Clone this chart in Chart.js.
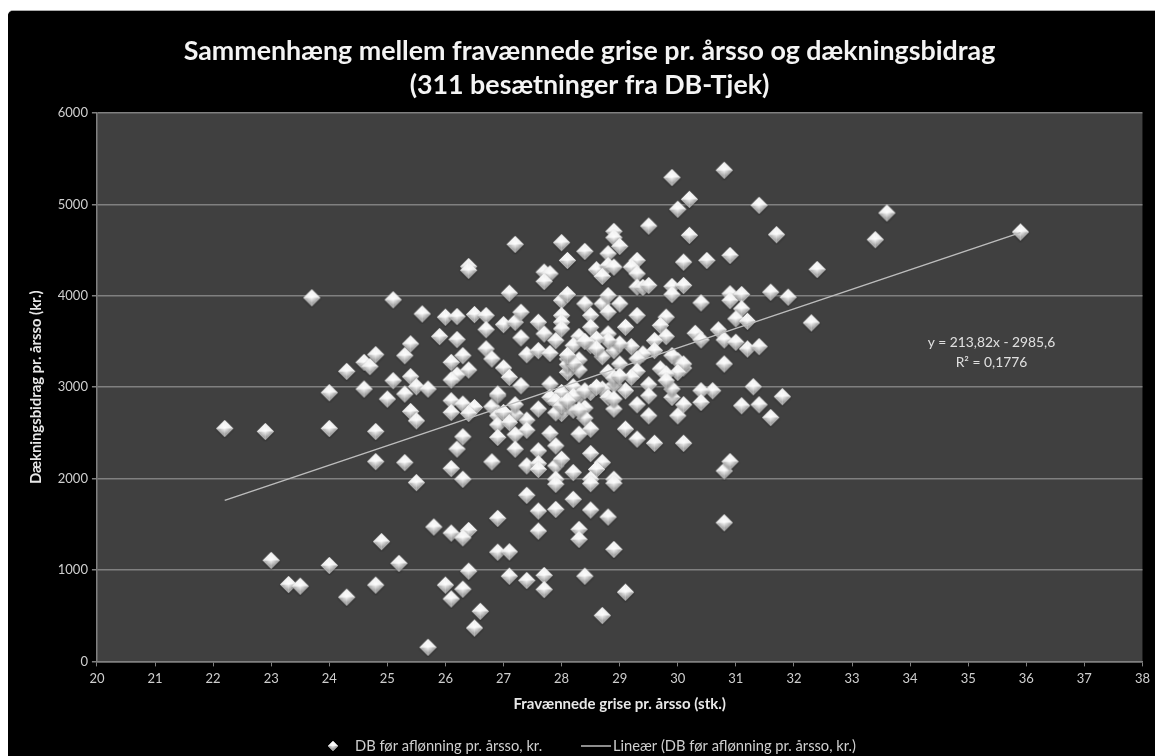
<!DOCTYPE html>
<html>
<head>
<meta charset="utf-8">
<script src="https://cdn.jsdelivr.net/npm/chart.js@4/dist/chart.umd.min.js"></script>
<style>
  html, body { margin: 0; padding: 0; background: #fff; overflow: hidden; }
  #wrap { position: absolute; left: 8px; top: 11px; width: 1147px; height: 745px; background: #000; border-top-left-radius: 5px; overflow: hidden; box-shadow: 0 -1px 0 #aaa; }
</style>
</head>
<body>
<div id="wrap"><canvas id="myChart" width="1147" height="745"></canvas></div>
<script>
// Values, one x row above its y row

const piglets = [
  24.8,25.3,25.5,26.2,26.1,26.3,26.8,25.8,26.1,26.4,26.3,26.9,26.9,24.9,23.0,24.0,25.2,23.3,23.5,24.3,
  24.8,26.0,26.3,26.1,26.4,26.6,26.5,25.7,23.7,25.1,25.6,26.0,26.2,26.5,26.7,26.7,25.9,26.2,25.4,25.3,
  24.8,24.6,24.7,24.3,26.7,26.8,26.3,26.1,26.4,26.2,26.1,25.4,25.1,24.0,24.6,25.5,25.7,25.3,25.0,25.4,
  25.5,22.2,22.9,24.0,24.8,26.1,26.3,26.1,26.5,26.4,26.8,26.9,26.9,26.9,26.9,26.3,26.4,26.4,
  27.1,27.0,27.2,27.3,27.3,27.0,27.1,27.3,27.6,27.7,27.4,27.6,27.8,28.0,28.1,28.0,28.0,28.0,27.9,28.4,
  28.5,28.5,28.7,28.8,29.0,28.8,29.3,29.8,29.7,29.8,29.1,30.4,30.9,31.1,30.9,31.6,31.1,31.0,31.2,30.7,
  30.8,30.3,30.4,31.0,31.2,31.4,30.8,31.3,31.1,31.4,31.6,31.8,30.6,30.4,30.4,30.1,30.0,29.9,29.9,30.1,
  30.0,29.9,30.1,30.0,29.7,29.8,29.8,29.6,29.6,29.4,29.2,29.3,29.3,29.2,29.5,29.5,29.3,29.5,29.1,29.3,
  29.6,30.1,28.9,29.1,28.9,28.7,28.8,28.9,28.8,29.0,28.8,28.7,28.9,29.0,28.8,28.6,28.5,28.3,28.2,28.1,
  28.3,28.1,28.1,28.3,27.8,28.0,28.2,28.3,28.5,27.8,27.9,27.6,28.0,28.2,28.4,28.4,28.5,28.3,27.8,27.9,
  27.4,27.4,27.2,27.2,27.0,26.9,27.1,27.2,27.2,27.6,27.4,27.6,27.6,27.9,28.0,28.2,28.5,28.7,28.6,28.9,
  28.5,27.9,30.8,30.9,27.4,27.9,28.5,28.9,28.2,27.6,27.9,28.5,28.8,27.6,28.3,28.3,28.9,27.1,27.1,27.4,
  27.7,27.7,28.4,29.1,28.7,30.8,27.2,28.0,28.4,28.1,28.9,28.9,29.0,28.8,29.5,29.9,30.8,30.2,30.0,31.4,
  31.7,30.2,30.1,30.5,30.9,29.3,28.6,28.8,28.9,28.7,29.2,29.3,27.7,27.8,27.7,29.3,29.4,29.5,29.9,30.1,
  29.9,33.6,33.4,35.9,32.4,31.9,32.3,28.2,28.4,28.6,28.9,29.0,28.6,28.4,28.2,28.1,27.9,28.0,28.1,28.3
];
const contribution = [
  2186,2175,1956,2323,2110,1993,2183,1470,1404,1433,1352,1565,1195,1310,1105,1050,1072,841,823,702,
  834,834,790,683,987,548,365,154,3978,3956,3802,3766,3773,3795,3784,3630,3554,3521,3474,3345,
  3356,3272,3225,3173,3419,3309,3345,3272,3188,3133,3079,3115,3071,2940,2980,3005,2980,2925,2870,2734,
  2632,2548,2515,2548,2515,2852,2815,2723,2778,2712,2786,2906,2687,2588,2450,2457,4320,4280,
  4029,3685,3711,3820,3540,3210,3108,3016,3711,3583,3356,3400,3370,3948,4014,3784,3711,3638,3510,3912,
  3784,3656,3912,4003,3912,3820,3784,3766,3675,3554,3656,3923,4022,4014,3948,4040,3858,3748,3722,3627,
  3518,3590,3518,3492,3419,3444,3254,3005,2797,2808,2668,2896,2961,2961,2833,2808,2687,2888,2980,3210,
  3290,3345,3254,3162,3199,3144,3071,3510,3400,3363,3444,3309,3173,3108,3027,2906,2808,2687,2541,2432,
  2387,2387,2761,2961,3027,2980,2888,2870,3162,3254,3583,3334,3400,3473,3510,3528,3455,3554,3455,3309,
  3298,3162,3246,3188,3034,2943,3005,2906,2943,2888,2844,2761,2712,2749,2772,2661,2541,2486,2493,2358,
  2640,2530,2705,2808,2723,2925,2613,2479,2322,2303,2139,2164,2100,2139,2212,2066,2274,2175,2100,1993,
  1993,1993,2084,2186,1817,1938,1945,1949,1773,1645,1663,1656,1579,1426,1444,1335,1225,1199,932,885,
  940,786,932,757,501,1517,4563,4582,4486,4387,4705,4636,4541,4460,4763,5294,5374,5056,4947,4990,
  4669,4662,4369,4387,4442,4387,4285,4332,4314,4212,4314,4241,4259,4241,4157,4095,4092,4113,4102,4113,
  4014,4906,4614,4698,4288,3985,3704,2900,2960,3000,3100,3120,3420,3500,3260,3350,2720,2800,2850,2750
];

// Trend line ends, read from where it starts and stops
const trendX = [22.2, 35.9];
const trendY = [1762, 4692];

const xTicks = [20,21,22,23,24,25,26,27,28,29,30,31,32,33,34,35,36,37,38];
const yTicks = [0,1000,2000,3000,4000,5000,6000];

const titleLines = ["Sammenhæng mellem fravænnede grise pr. årsso og dækningsbidrag", "(311 besætninger fra DB-Tjek)"];
const equationLines = ["y = 213,82x - 2985,6", "R² = 0,1776"];
const seriesName = "DB før aflønning pr. årsso, kr.";
const trendName = "Lineær (DB før aflønning pr. årsso, kr.)";

const textColor = "#cfcfcf";
const lineColor = "#808080";
const fontName = "Lato, 'Open Sans', sans-serif";

// Faceted diamond used as the marker
function make_diamond(r) {
  const size = 2 * (r + 2);
  const c = document.createElement("canvas");
  c.width = size;
  c.height = size;
  const g = c.getContext("2d");
  const m = size / 2;
  const facets = [
    [[m, m - r], [m + r, m], "#f4f4f4", "#e8e8e8"],
    [[m + r, m], [m, m + r], "#c8c8c8", "#9a9a9a"],
    [[m, m + r], [m - r, m], "#d0d0d0", "#a0a0a0"],
    [[m - r, m], [m, m - r], "#fafafa", "#e0e0e0"]
  ];
  g.shadowColor = "rgba(0,0,0,0.45)";
  g.shadowBlur = 2;
  g.shadowOffsetY = 1;
  g.beginPath();
  g.moveTo(m, m - r); g.lineTo(m + r, m); g.lineTo(m, m + r); g.lineTo(m - r, m);
  g.closePath();
  g.fillStyle = "#ddd";
  g.fill();
  g.shadowColor = "transparent";
  for (const f of facets) {
    const grad = g.createLinearGradient(m, m - r, m, m + r);
    grad.addColorStop(0, f[2]);
    grad.addColorStop(1, f[3]);
    g.beginPath();
    g.moveTo(m, m);
    g.lineTo(f[0][0], f[0][1]);
    g.lineTo(f[1][0], f[1][1]);
    g.closePath();
    g.fillStyle = grad;
    g.fill();
  }
  // bright centre
  const glow = g.createRadialGradient(m, m - 1, 0, m, m - 1, r * 0.7);
  glow.addColorStop(0, "rgba(255,255,255,0.95)");
  glow.addColorStop(1, "rgba(255,255,255,0)");
  g.fillStyle = glow;
  g.fillRect(0, 0, size, size);
  return c;
}

const bigDiamond = make_diamond(8.5);
const smallDiamond = make_diamond(5);

// Black background, grey plot area, the equation and the legend row
const chartDecor = {
  id: "chartDecor",
  beforeDraw(chart) {
    const { ctx, chartArea: a, width, height } = chart;
    ctx.save();
    ctx.fillStyle = "#000";
    ctx.fillRect(0, 0, width, height);
    ctx.fillStyle = "#404040";
    ctx.fillRect(a.left, a.top, a.right - a.left, a.bottom - a.top);
    ctx.restore();
  },
  afterDatasetsDraw(chart) {
    const { ctx, scales } = chart;
    ctx.save();
    ctx.fillStyle = "#e0e0e0";
    ctx.font = "13.8px " + fontName;
    ctx.textAlign = "center";
    ctx.textBaseline = "middle";
    ctx.fillText(equationLines[0], scales.x.getPixelForValue(35.4), scales.y.getPixelForValue(3487));
    ctx.fillText(equationLines[1], scales.x.getPixelForValue(35.4), scales.y.getPixelForValue(3268));

    // legend, drawn here because the two entries sit unevenly apart
    const legendY = 735;
    ctx.fillStyle = textColor;
    ctx.font = "14.7px " + fontName;
    ctx.textAlign = "left";
    ctx.drawImage(smallDiamond, 325 - smallDiamond.width / 2, legendY - smallDiamond.height / 2);
    ctx.fillText(seriesName, 347, legendY);
    ctx.strokeStyle = "#bdbdbd";
    ctx.lineWidth = 1.5;
    ctx.beginPath();
    ctx.moveTo(573, legendY);
    ctx.lineTo(603, legendY);
    ctx.stroke();
    ctx.fillText(trendName, 605, legendY);
    ctx.restore();
  }
};

const ctx = document.getElementById("myChart").getContext("2d");

new Chart(ctx, {
  data: {
    datasets: [
      {
        type: "line",
        label: trendName,
        data: trendX.map((x, i) => ({ x: x, y: trendY[i] })),
        borderColor: "#bdbdbd",
        borderWidth: 1.5,
        pointRadius: 0,
        fill: false,
        order: 1
      },
      {
        type: "scatter",
        label: seriesName,
        data: piglets.map((x, i) => ({ x: x, y: contribution[i] })),
        pointStyle: bigDiamond,
        pointRadius: 8.5,
        order: 2
      }
    ]
  },
  options: {
    responsive: false,
    animation: false,
    devicePixelRatio: 1,
    layout: { padding: { left: 19, right: 3, top: 8, bottom: 43 } },
    plugins: {
      tooltip: { enabled: false },
      legend: { display: false },
      title: {
        display: true,
        text: titleLines,
        color: "#f4f4f4",
        font: { family: fontName, size: 26.8, weight: "bold", lineHeight: 1.27 },
        padding: { top: 15, bottom: 11 }
      }
    },
    scales: {
      x: {
        type: "linear",
        min: xTicks[0],
        max: xTicks[xTicks.length - 1],
        afterBuildTicks(axis) { axis.ticks = xTicks.map(v => ({ value: v })); },
        grid: { drawOnChartArea: false, drawTicks: true, tickLength: 5, color: lineColor },
        border: { color: lineColor, width: 1.5 },
        ticks: { color: textColor, font: { family: fontName, size: 13 }, padding: 5, maxRotation: 0 },
        title: { display: true, text: "Fravænnede grise pr. årsso (stk.)", color: "#e8e8e8", font: { family: fontName, size: 15, weight: "bold" }, padding: { top: 3, bottom: 0 } }
      },
      y: {
        min: yTicks[0],
        max: yTicks[yTicks.length - 1],
        afterBuildTicks(axis) { axis.ticks = yTicks.map(v => ({ value: v })); },
        grid: { color: lineColor, lineWidth: 1.5, tickLength: 5 },
        border: { color: lineColor, width: 1.5 },
        ticks: { color: textColor, font: { family: fontName, size: 13 }, padding: 4, callback: v => String(v) },
        title: { display: true, text: "Dækningsbidrag pr. årsso (kr.)", color: "#e8e8e8", font: { family: fontName, size: 14.8, weight: "bold" }, padding: { top: 0, bottom: 9 } }
      }
    }
  },
  plugins: [chartDecor]
});
</script>
</body>
</html>
